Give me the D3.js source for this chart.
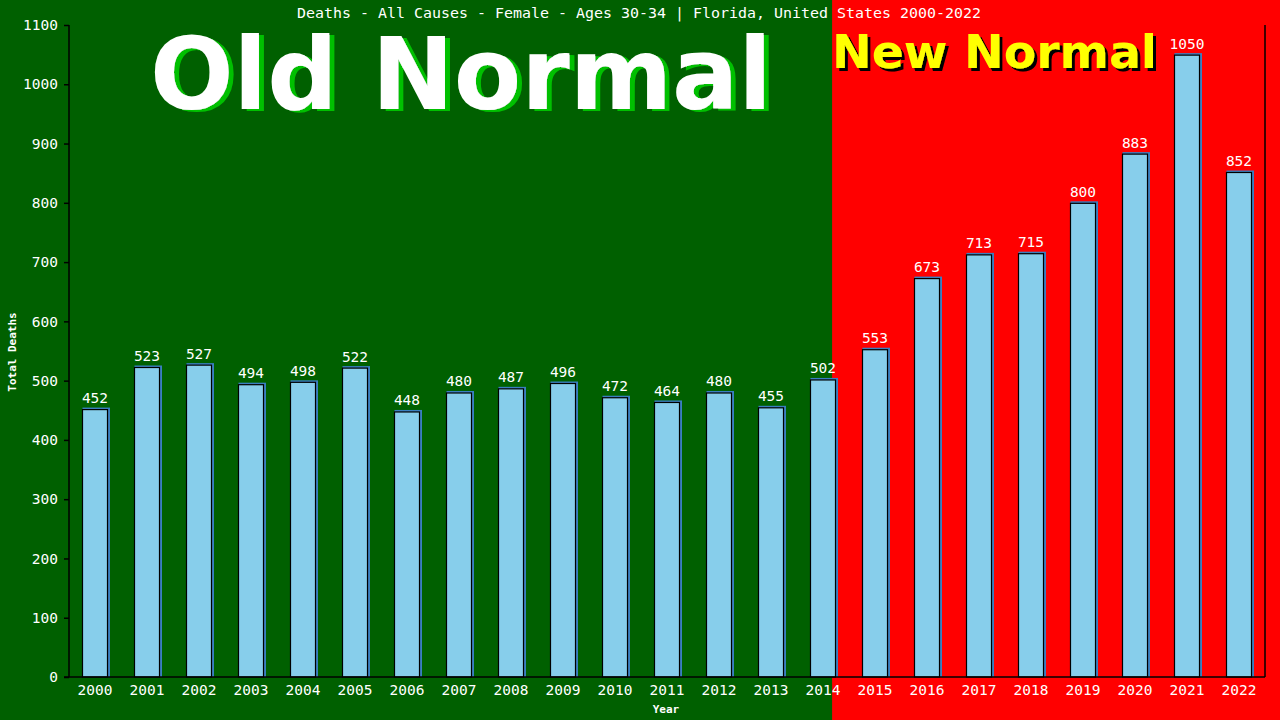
<!DOCTYPE html>
<html><head><meta charset="utf-8">
<script src="https://cdn.jsdelivr.net/npm/d3@7"></script>
<style>html,body{margin:0;padding:0;background:#006000;}svg{display:block;}</style>
</head><body>
<script>
const years = ["2000","2001","2002","2003","2004","2005","2006","2007","2008","2009","2010","2011","2012","2013","2014","2015","2016","2017","2018","2019","2020","2021","2022"];
const deaths = [452,523,527,494,498,522,448,480,487,496,472,464,480,455,502,553,673,713,715,800,883,1050,852];
const yTicks = [0,100,200,300,400,500,600,700,800,900,1000,1100];
const titleText = "Deaths - All Causes - Female - Ages 30-34 | Florida, United States 2000-2022";

const W = 1280, H = 720;
const m = {l:69, r:1265, t:25, b:677};
const mono = "'DejaVu Sans Mono', monospace";
const svg = d3.select("body").append("svg").attr("width", W).attr("height", H);

function shadowFilter(id, color, dx, dy) {
  const f = svg.append("defs").append("filter").attr("id", id)
    .attr("x","-5%").attr("y","-10%").attr("width","115%").attr("height","130%");
  f.append("feFlood").attr("flood-color", color).attr("result","c");
  f.append("feComposite").attr("in","c").attr("in2","SourceAlpha").attr("operator","in").attr("result","s");
  f.append("feOffset").attr("in","s").attr("dx",dx).attr("dy",dy).attr("result","o");
  const mg = f.append("feMerge");
  mg.append("feMergeNode").attr("in","o");
  mg.append("feMergeNode").attr("in","SourceGraphic");
}
shadowFilter("greenShadow", "#00c000", 5, 2);
shadowFilter("blackShadow", "#000000", 3, 3);

const x = d3.scaleBand().domain(years).range([m.l, m.r]).paddingInner(0.5).paddingOuter(0.25);
const y = d3.scaleLinear().domain([0, 1100]).range([m.b, m.t]);

const splitX = x("2014") + x.bandwidth() * 0.85;
svg.append("rect").attr("x",0).attr("y",0).attr("width",W).attr("height",H).attr("fill","#006000");
svg.append("rect").attr("x",splitX).attr("y",0).attr("width",W-splitX).attr("height",H).attr("fill","#ff0000");

// Big labels
const sans = "'DejaVu Sans', Verdana, sans-serif";
svg.append("text").attr("x",150).attr("y",109).attr("font-family",sans).attr("font-weight","bold")
  .attr("font-size",100).attr("fill","#ffffff").attr("textLength",622).attr("lengthAdjust","spacingAndGlyphs")
  .attr("filter","url(#greenShadow)").text("Old Normal");
svg.append("text").attr("x",splitX).attr("y",68).attr("font-family",sans).attr("font-weight","bold")
  .attr("font-size",47).attr("fill","#ffff00").attr("textLength",325).attr("lengthAdjust","spacingAndGlyphs")
  .attr("filter","url(#blackShadow)").text("New Normal");

// Title
svg.append("text").attr("x",639).attr("y",18).attr("text-anchor","middle").attr("font-family",mono)
  .attr("font-size",14).attr("fill","#fff").attr("textLength",684).attr("lengthAdjust","spacingAndGlyphs").text(titleText);

// Bars
const bars = svg.append("g");
bars.selectAll("rect.sh").data(deaths).join("rect").attr("class","sh")
  .attr("x",(d,i)=>x(years[i])+0.5).attr("y",d=>y(d)-1.5)
  .attr("width",x.bandwidth()+1.5).attr("height",d=>m.b-y(d)+1.5).attr("fill","#3a7fc0");
bars.selectAll("rect.b").data(deaths).join("rect").attr("class","b")
  .attr("x",(d,i)=>x(years[i])+0.5).attr("y",d=>y(d)+0.5)
  .attr("width",x.bandwidth()-1).attr("height",d=>m.b-y(d)-0.5)
  .attr("fill","#87ceeb").attr("stroke","#000").attr("stroke-width",1.2);
bars.selectAll("text").data(deaths).join("text")
  .attr("x",(d,i)=>x(years[i])+x.bandwidth()/2).attr("y",d=>y(d)-6)
  .attr("text-anchor","middle").attr("font-family",mono).attr("font-size",14.5).attr("fill","#fff").text(d=>d);

// Y axis
const ya = svg.append("g").attr("transform",`translate(${m.l},0)`)
  .call(d3.axisLeft(y).tickValues(yTicks).tickSize(5).tickPadding(6).tickFormat(d3.format("d")));
ya.select(".domain").attr("stroke","#000").attr("stroke-width",1.5).attr("d",`M0,${m.t}V${m.b}`);
ya.selectAll(".tick line").attr("stroke","#000").attr("stroke-width",1.5);
ya.selectAll(".tick text").attr("fill","#fff").attr("font-family",mono).attr("font-size",14.5);

// X axis
const xa = svg.append("g").attr("transform",`translate(0,${m.b})`)
  .call(d3.axisBottom(x).tickSize(0).tickPadding(8));
xa.select(".domain").attr("stroke","#000").attr("stroke-width",1.5).attr("d",`M${m.l-5},0H${m.r}`);
xa.selectAll(".tick text").attr("fill","#fff").attr("font-family",mono).attr("font-size",14.5);

// Right border
svg.append("line").attr("x1",m.r).attr("x2",m.r).attr("y1",m.t).attr("y2",m.b).attr("stroke","#000").attr("stroke-width",1.5);

// Axis titles
svg.append("text").attr("transform","translate(16,352) rotate(-90)").attr("text-anchor","middle")
  .attr("font-family",mono).attr("font-weight","bold").attr("font-size",11).attr("fill","#fff").text("Total Deaths");
svg.append("text").attr("x",666).attr("y",713).attr("text-anchor","middle")
  .attr("font-family",mono).attr("font-weight","bold").attr("font-size",11).attr("fill","#fff").text("Year");
</script>
</body></html>
